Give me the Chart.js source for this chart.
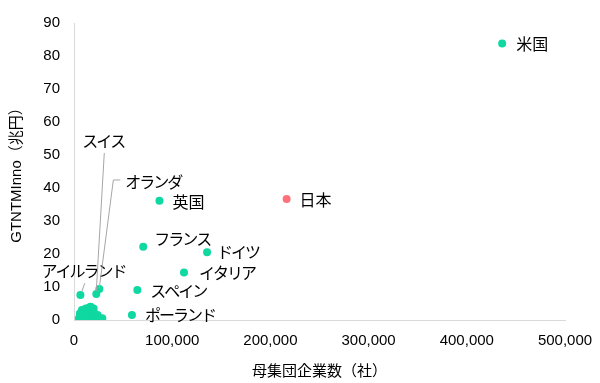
<!DOCTYPE html>
<html><head><meta charset="utf-8">
<script src="https://cdn.jsdelivr.net/npm/chart.js@4/dist/chart.umd.min.js"></script>
<style>html,body{margin:0;padding:0;background:#fff}canvas{display:block}</style>
</head><body>
<canvas id="c" width="600" height="383"></canvas>
<script>
// ---- data ----
const countries = ['米国','日本','英国','フランス','ドイツ','イタリア','スペイン','ポーランド','アイルランド','スイス','オランダ'];
const firmCounts = [436000, 216500, 87000, 70500, 135500, 112000, 64500, 59000, 6500, 22700, 25800];
const gtntmValues = [83.8, 36.7, 36.1, 22.2, 20.5, 14.4, 9.1, 1.5, 7.6, 7.9, 9.4];
const otherFirmCounts = [5000, 6000, 7000, 8000, 9000, 10000, 11000, 12000, 13000, 14000, 15000, 16000, 17000, 18000, 19000, 20000, 21000, 22000, 24000, 8500, 15500, 28800];
const otherGtntmValues = [0.5, 2.0, 1.0, 3.0, 0.8, 2.5, 1.5, 3.5, 0.6, 2.0, 1.0, 3.0, 4.0, 2.5, 1.2, 3.5, 2.0, 0.8, 1.5, 1.8, 3.8, 0.5];
const xTicks = [0, 100000, 200000, 300000, 400000, 500000];
const yTicks = [0, 10, 20, 30, 40, 50, 60, 70, 80, 90];

// ---- styles / label layout ----
const TEAL = '#0fd8a0', RED = '#ff717a';
const labelLayout = {
  '米国': {dx: 14, dy: 0},
  '日本': {dx: 13, dy: 1},
  '英国': {dx: 13, dy: 1},
  'フランス': {dx: 11, dy: -8},
  'ドイツ': {dx: 10, dy: 0},
  'イタリア': {dx: 15, dy: 0},
  'スペイン': {dx: 13, dy: 1},
  'ポーランド': {dx: 13, dy: 0},
  'アイルランド': {dx: -39, dy: -24, leader: [[4.4, -11.7], [1.4, -3.3]]},
  'スイス': {dx: -14, dy: -153, leader: [[8, -141], [0, -3]]},
  'オランダ': {dx: 26, dy: -107, leader: [[21, -109], [14, -109], [0, -1]]}
};

const labelPlugin = {
  id: 'pointLabels',
  afterDatasetsDraw(chart) {
    const ctx = chart.ctx;
    const meta = chart.getDatasetMeta(0);
    ctx.save();
    countries.forEach((name, i) => {
      const el = meta.data[i];
      const lay = labelLayout[name];
      if (!el || !lay) return;
      if (lay.leader) {
        ctx.beginPath();
        ctx.strokeStyle = '#a6a6a6';
        ctx.lineWidth = 1;
        lay.leader.forEach((p, k) => {
          const px = el.x + p[0], py = el.y + p[1];
          if (k === 0) ctx.moveTo(px, py); else ctx.lineTo(px, py);
        });
        ctx.stroke();
      }
      const isKanji = /^[\u4e00-\u9fff]+$/.test(name);
      ctx.font = '16px "Noto Sans CJK JP"';
      try { ctx.letterSpacing = isKanji ? '0px' : '-2px'; } catch (e) {}
      ctx.fillStyle = '#000';
      ctx.textAlign = 'left';
      ctx.textBaseline = 'middle';
      ctx.fillText(name, el.x + lay.dx, el.y + lay.dy);
    });
    ctx.restore();
  }
};

const mainData = countries.map((c, i) => ({x: firmCounts[i], y: gtntmValues[i]}));
const otherData = otherFirmCounts.map((v, i) => ({x: v, y: otherGtntmValues[i]}));

const tickFont = {family: '"Liberation Sans", Arial, sans-serif', size: 15};
const titleFont = {family: '"Liberation Sans", "Noto Sans CJK JP", sans-serif', size: 15, lineHeight: 1.2};

new Chart(document.getElementById('c'), {
  type: 'scatter',
  data: {
    datasets: [
      {
        label: 'countries',
        data: mainData,
        pointRadius: 4,
        pointHoverRadius: 4,
        pointBorderWidth: 0,
        pointBackgroundColor: ctx => countries[ctx.dataIndex] === '日本' ? RED : TEAL,
        pointBorderColor: ctx => countries[ctx.dataIndex] === '日本' ? RED : TEAL
      },
      {
        label: 'others',
        data: otherData,
        pointRadius: 4,
        pointHoverRadius: 4,
        pointBorderWidth: 0,
        pointBackgroundColor: TEAL,
        pointBorderColor: TEAL
      }
    ]
  },
  options: {
    responsive: false,
    animation: false,
    devicePixelRatio: 1,
    layout: {padding: {left: 0, right: 35, top: 23, bottom: 0}},
    plugins: {legend: {display: false}, tooltip: {enabled: false}},
    scales: {
      x: {
        type: 'linear',
        min: xTicks[0],
        max: xTicks[xTicks.length - 1],
        afterBuildTicks: s => { s.ticks = xTicks.map(v => ({value: v})); },
        afterFit: s => { s.height = 63; s.paddingLeft = 0; s.paddingRight = 0; },
        grid: {display: false, drawTicks: false},
        border: {display: true, color: '#d9d9d9', width: 1},
        ticks: {
          font: tickFont, color: '#000', padding: 12, maxRotation: 0,
          callback: v => v.toLocaleString('en-US')
        },
        title: {display: true, text: '母集団企業数（社）', font: titleFont, color: '#000', padding: {top: 0, bottom: 2}}
      },
      y: {
        type: 'linear',
        min: yTicks[0],
        max: yTicks[yTicks.length - 1],
        afterBuildTicks: s => { s.ticks = yTicks.map(v => ({value: v})); },
        afterFit: s => { s.width = 74; s.paddingTop = 0; s.paddingBottom = 0; },
        grid: {display: false, drawTicks: false},
        border: {display: true, color: '#d9d9d9', width: 1},
        ticks: {font: tickFont, color: '#000', padding: 14},
        title: {display: true, text: 'GTNTMInno（兆円）', font: titleFont, color: '#000', padding: {top: 8, bottom: 0}}
      }
    }
  },
  plugins: [labelPlugin]
});
</script>
</body></html>
